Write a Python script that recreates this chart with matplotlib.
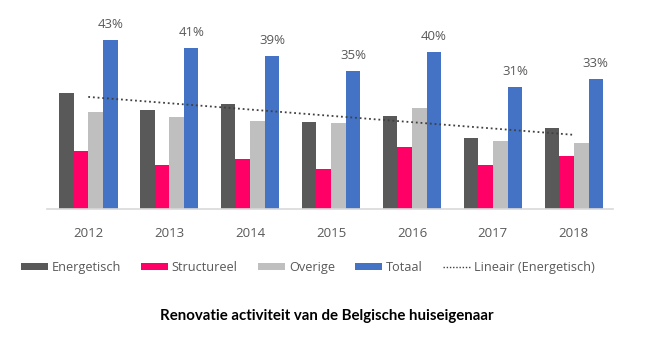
import numpy as np
import matplotlib
matplotlib.use("Agg")
import matplotlib.pyplot as plt
from matplotlib.patches import Patch
from matplotlib.lines import Line2D

years = ["2012", "2013", "2014", "2015", "2016", "2017", "2018"]
energetisch = [29.6, 25.3, 26.8, 22.0, 23.6, 18.0, 20.5]
structureel = [14.8, 11.2, 12.6, 10.1, 15.7, 11.2, 13.4]
overige = [24.6, 23.3, 22.5, 21.8, 25.7, 17.3, 16.7]
totaal = [43, 41, 39, 35, 40, 31, 33]
totaal_labels = ["43%", "41%", "39%", "35%", "40%", "31%", "33%"]

series_names = ["Energetisch", "Structureel", "Overige", "Totaal"]
colors = ["#595959", "#FF0066", "#BFBFBF", "#4472C4"]
text_color = "#595959"
font = "Open Sans"

fig = plt.figure(figsize=(6.56, 3.6), dpi=100)
ax = fig.add_axes([0.0716, 0.42, 0.8624, 0.545])

x = np.arange(len(years))
w = 0.181
offsets = [-1.5 * w, -0.5 * w, 0.5 * w, 1.5 * w]
for vals, off, c in zip([energetisch, structureel, overige, totaal], offsets, colors):
    ax.bar(x + off, vals, width=w, color=c, linewidth=0)

for xi, v, lab in zip(x, totaal, totaal_labels):
    ax.annotate(lab, (xi + offsets[3], v), xytext=(0, 9), textcoords="offset pixels",
                ha="center", va="bottom", fontsize=9.5, color=text_color, family=font)

coef = np.polyfit(x, energetisch, 1)
ax.plot(x, np.polyval(coef, x), linestyle=(0, (1, 1.6)), color="#404040", linewidth=1.3)

ax.set_xlim(-0.51, 6.48)
ax.set_ylim(0, 50)
ax.set_yticks([])
ax.set_xticks(x)
ax.set_xticklabels(years, fontsize=9.5, color=text_color, family=font)
ax.tick_params(axis="x", length=0, pad=13)
for s in ["top", "right", "left"]:
    ax.spines[s].set_visible(False)
ax.spines["bottom"].set_color("#D9D9D9")
ax.spines["bottom"].set_linewidth(1.2)

handles = [Patch(facecolor=c, edgecolor="none") for c in colors]
handles.append(Line2D([0], [0], linestyle=(0, (1, 1.3)), color="#404040", linewidth=1.0))
labels = series_names + ["Lineair (Energetisch)"]
leg = fig.legend(handles, labels, loc="center", bbox_to_anchor=(0.469, 0.256), ncol=5,
                 frameon=False, handlelength=2.1, handleheight=0.5, handletextpad=0.3,
                 columnspacing=1.6, prop={"family": font, "size": 9.2})
for t in leg.get_texts():
    t.set_color(text_color)

fig.text(0.498, 0.123, "Renovatie activiteit van de Belgische huiseigenaar",
         ha="center", va="center", fontsize=10.8, fontweight="bold", family="Lato", color="black")

fig.savefig("out.png", dpi=100, facecolor="white")
